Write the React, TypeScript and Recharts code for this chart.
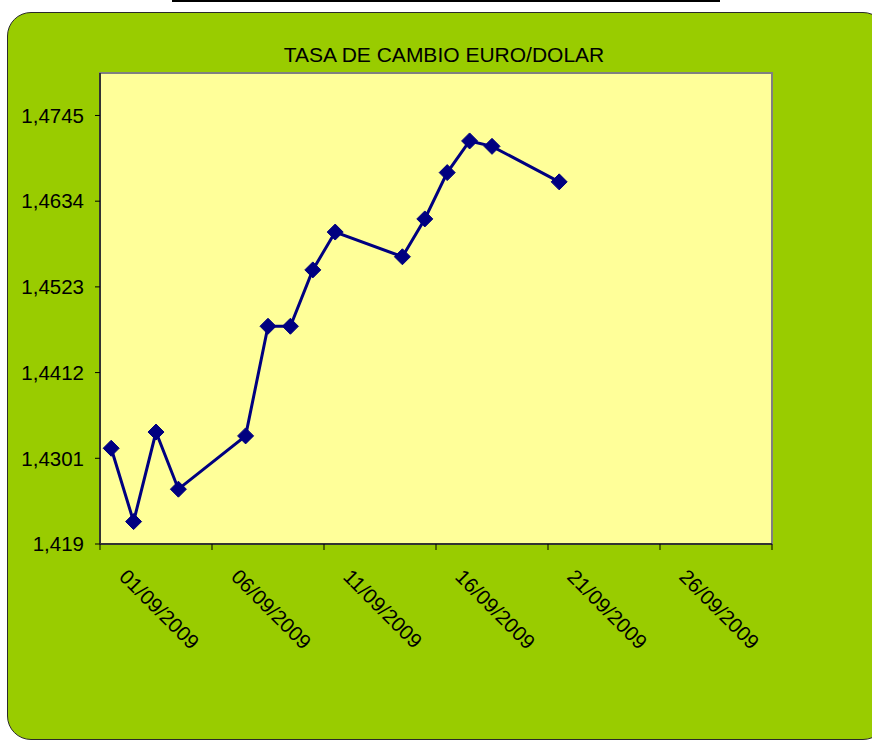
import React from 'react';
import {
  LineChart,
  Line,
  XAxis,
  YAxis,
  ReferenceArea,
} from 'recharts';

const fechas = [
  '01/09/2009', '02/09/2009', '03/09/2009', '04/09/2009', '07/09/2009',
  '08/09/2009', '09/09/2009', '10/09/2009', '11/09/2009', '14/09/2009',
  '15/09/2009', '16/09/2009', '17/09/2009', '18/09/2009', '21/09/2009',
];
const tasas = [
  1.4314, 1.4219, 1.4335, 1.4261, 1.4330,
  1.4472, 1.4472, 1.4545, 1.4594, 1.4562,
  1.4611, 1.4671, 1.4712, 1.4705, 1.4659,
];
const xTicks = [0, 5, 10, 15, 20, 25, 30];
const xTickLabels = ['01/09/2009', '06/09/2009', '11/09/2009', '16/09/2009', '21/09/2009', '26/09/2009', ''];
const yTicks = [1.419, 1.4301, 1.4412, 1.4523, 1.4634, 1.4745];

// day slot centre: 01/09 sits in the middle of the first day
const data = fechas.map((f, i) => ({
  x: parseInt(f.slice(0, 2), 10) - 0.5,
  tasa: tasas[i],
}));

const font = '"Liberation Sans", Arial, sans-serif';

const DateTick = (props: any) => {
  const { x, y, payload } = props;
  const label = xTickLabels[xTicks.indexOf(payload.value)] || '';
  const tx = x + 18;
  const ty = y + 26;
  return (
    <text
      x={tx}
      y={ty}
      transform={`rotate(45, ${tx}, ${ty})`}
      textAnchor="start"
      fontSize={20.5}
      fontFamily={font}
      fill="#000"
    >
      {label}
    </text>
  );
};

const Diamond = (props: any) => {
  const { cx, cy } = props;
  if (cx == null || cy == null) return null;
  const r = 8;
  return (
    <polygon
      key={`d-${cx}-${cy}`}
      points={`${cx},${cy - r} ${cx + r},${cy} ${cx},${cy + r} ${cx - r},${cy}`}
      fill="#000080"
      stroke="#000080"
      strokeWidth={1}
    />
  );
};

const App = () => {
  return (
    <div style={{ position: 'fixed', left: 0, top: 0, width: 872, height: 740, overflow: 'hidden', background: '#fff' }}>
      <div style={{ position: 'absolute', left: 172, top: 0, width: 548, height: 2, background: '#000' }} />
      <div
        style={{
          position: 'absolute',
          left: 7,
          top: 12,
          width: 878,
          height: 726,
          background: '#99CC00',
          border: '1.5px solid #2a2a2a',
          borderRadius: 24,
        }}
      />
      <div
        style={{
          position: 'absolute',
          left: 244,
          top: 44,
          width: 400,
          textAlign: 'center',
          fontFamily: font,
          fontSize: 21,
          lineHeight: '21px',
          color: '#000',
        }}
      >
        TASA DE CAMBIO EURO/DOLAR
      </div>
      <div style={{ position: 'absolute', left: 0, top: 0 }}>
        <LineChart width={872} height={740} data={data} margin={{ top: 73, right: 100, left: 0, bottom: 0 }}>
          <ReferenceArea
            x1={0}
            x2={30}
            y1={1.419}
            y2={1.48}
            fill="#FFFF99"
            fillOpacity={1}
            stroke="#808080"
            strokeWidth={2}
          />
          <XAxis
            type="number"
            dataKey="x"
            domain={[0, 30]}
            ticks={xTicks}
            interval={0}
            height={196}
            tickSize={6}
            tick={<DateTick />}
            axisLine={{ stroke: '#333', strokeWidth: 2 }}
            tickLine={{ stroke: '#000' }}
            allowDataOverflow
          />
          <YAxis
            type="number"
            domain={[1.419, 1.48]}
            ticks={yTicks}
            interval={0}
            width={100}
            tickSize={5}
            tickMargin={11}
            tickFormatter={(v: number) => String(v).replace('.', ',')}
            tick={{ fontSize: 20.5, fontFamily: font, fill: '#000' }}
            axisLine={{ stroke: '#333', strokeWidth: 2 }}
            tickLine={{ stroke: '#000' }}
            allowDataOverflow
          />
          <Line
            type="linear"
            dataKey="tasa"
            stroke="#000080"
            strokeWidth={3}
            dot={<Diamond />}
            activeDot={false}
            isAnimationActive={false}
          />
        </LineChart>
      </div>
    </div>
  );
};

export default App;
